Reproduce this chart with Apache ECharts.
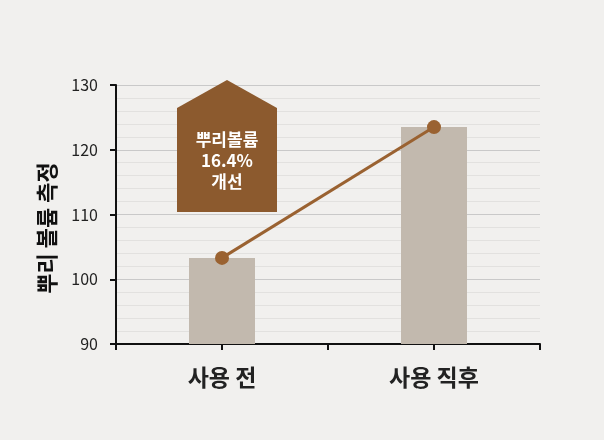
<!DOCTYPE html>
<html>
<head>
<meta charset="utf-8">
<script src="https://cdn.jsdelivr.net/npm/echarts@6/dist/echarts.min.js"></script>
<style>
  html, body { margin: 0; padding: 0; background: #f1f0ee; }
  #main { width: 604px; height: 440px; }
</style>
</head>
<body>
<div id="main"></div>
<script>
// 데이터
var categories = ['사용 전', '사용 직후'];
var barValues = [103.3, 123.5];
var lineValues = [103.3, 123.5];
var yTicks = { min: 90, max: 130, step: 10 };

var FONT = '"Noto Sans CJK KR", "Noto Sans", sans-serif';
var chart = echarts.init(document.getElementById('main'));

var option = {
  backgroundColor: '#f1f0ee',
  animation: false,
  grid: {
    left: 116,
    right: 64,
    top: 85,
    bottom: 96
  },
  xAxis: [
    {
      type: 'category',
      data: categories,
      axisLine: { lineStyle: { color: '#111', width: 2 } },
      axisTick: { show: true, length: 6, lineStyle: { color: '#111', width: 2 } },
      axisLabel: {
        margin: 22,
        fontSize: 23,
        fontWeight: 'bold',
        color: '#222',
        fontFamily: FONT
      }
    },
    {
      // 막대 중심 눈금용
      type: 'category',
      data: categories,
      position: 'bottom',
      axisLine: { show: false },
      axisTick: { show: true, alignWithLabel: true, length: 6, lineStyle: { color: '#111', width: 2 } },
      axisLabel: { show: false }
    }
  ],
  yAxis: {
    type: 'value',
    min: yTicks.min,
    max: yTicks.max,
    interval: yTicks.step,
    axisLine: { show: true, lineStyle: { color: '#111', width: 2 } },
    axisTick: { show: true, length: 6, lineStyle: { color: '#111', width: 2 } },
    axisLabel: {
      margin: 18,
      fontSize: 16,
      color: '#222',
      fontFamily: FONT
    },
    splitLine: { lineStyle: { color: '#c9c9c9', width: 1 } },
    minorTick: { show: false, splitNumber: 5 },
    minorSplitLine: { show: true, lineStyle: { color: '#e2e1df', width: 1 } }
  },
  series: [
    {
      type: 'bar',
      data: barValues,
      barWidth: 66,
      itemStyle: { color: '#c2b9ae' },
      z: 2
    },
    {
      type: 'line',
      data: lineValues,
      symbol: 'circle',
      symbolSize: 14,
      lineStyle: { color: '#9a6231', width: 3 },
      itemStyle: { color: '#9a6231' },
      z: 3
    }
  ],
  graphic: [
    {
      type: 'text',
      x: 47,
      y: 228,
      rotation: Math.PI / 2,
      style: {
        text: '뿌리 볼륨 측정',
        fill: '#111',
        font: 'bold 22px ' + FONT,
        align: 'center',
        verticalAlign: 'middle'
      }
    },
    {
      type: 'polygon',
      shape: { points: [[177, 108], [227, 80], [277, 108], [277, 212], [177, 212]] },
      style: { fill: '#8c5a2e' },
      z: 10
    },
    {
      type: 'text',
      x: 227,
      y: 161,
      z: 11,
      style: {
        text: '뿌리볼륨\n16.4%\n개선',
        fill: '#fff',
        font: 'bold 17px ' + FONT,
        lineHeight: 21,
        align: 'center',
        verticalAlign: 'middle'
      }
    }
  ]
};

chart.setOption(option);
</script>
</body>
</html>
